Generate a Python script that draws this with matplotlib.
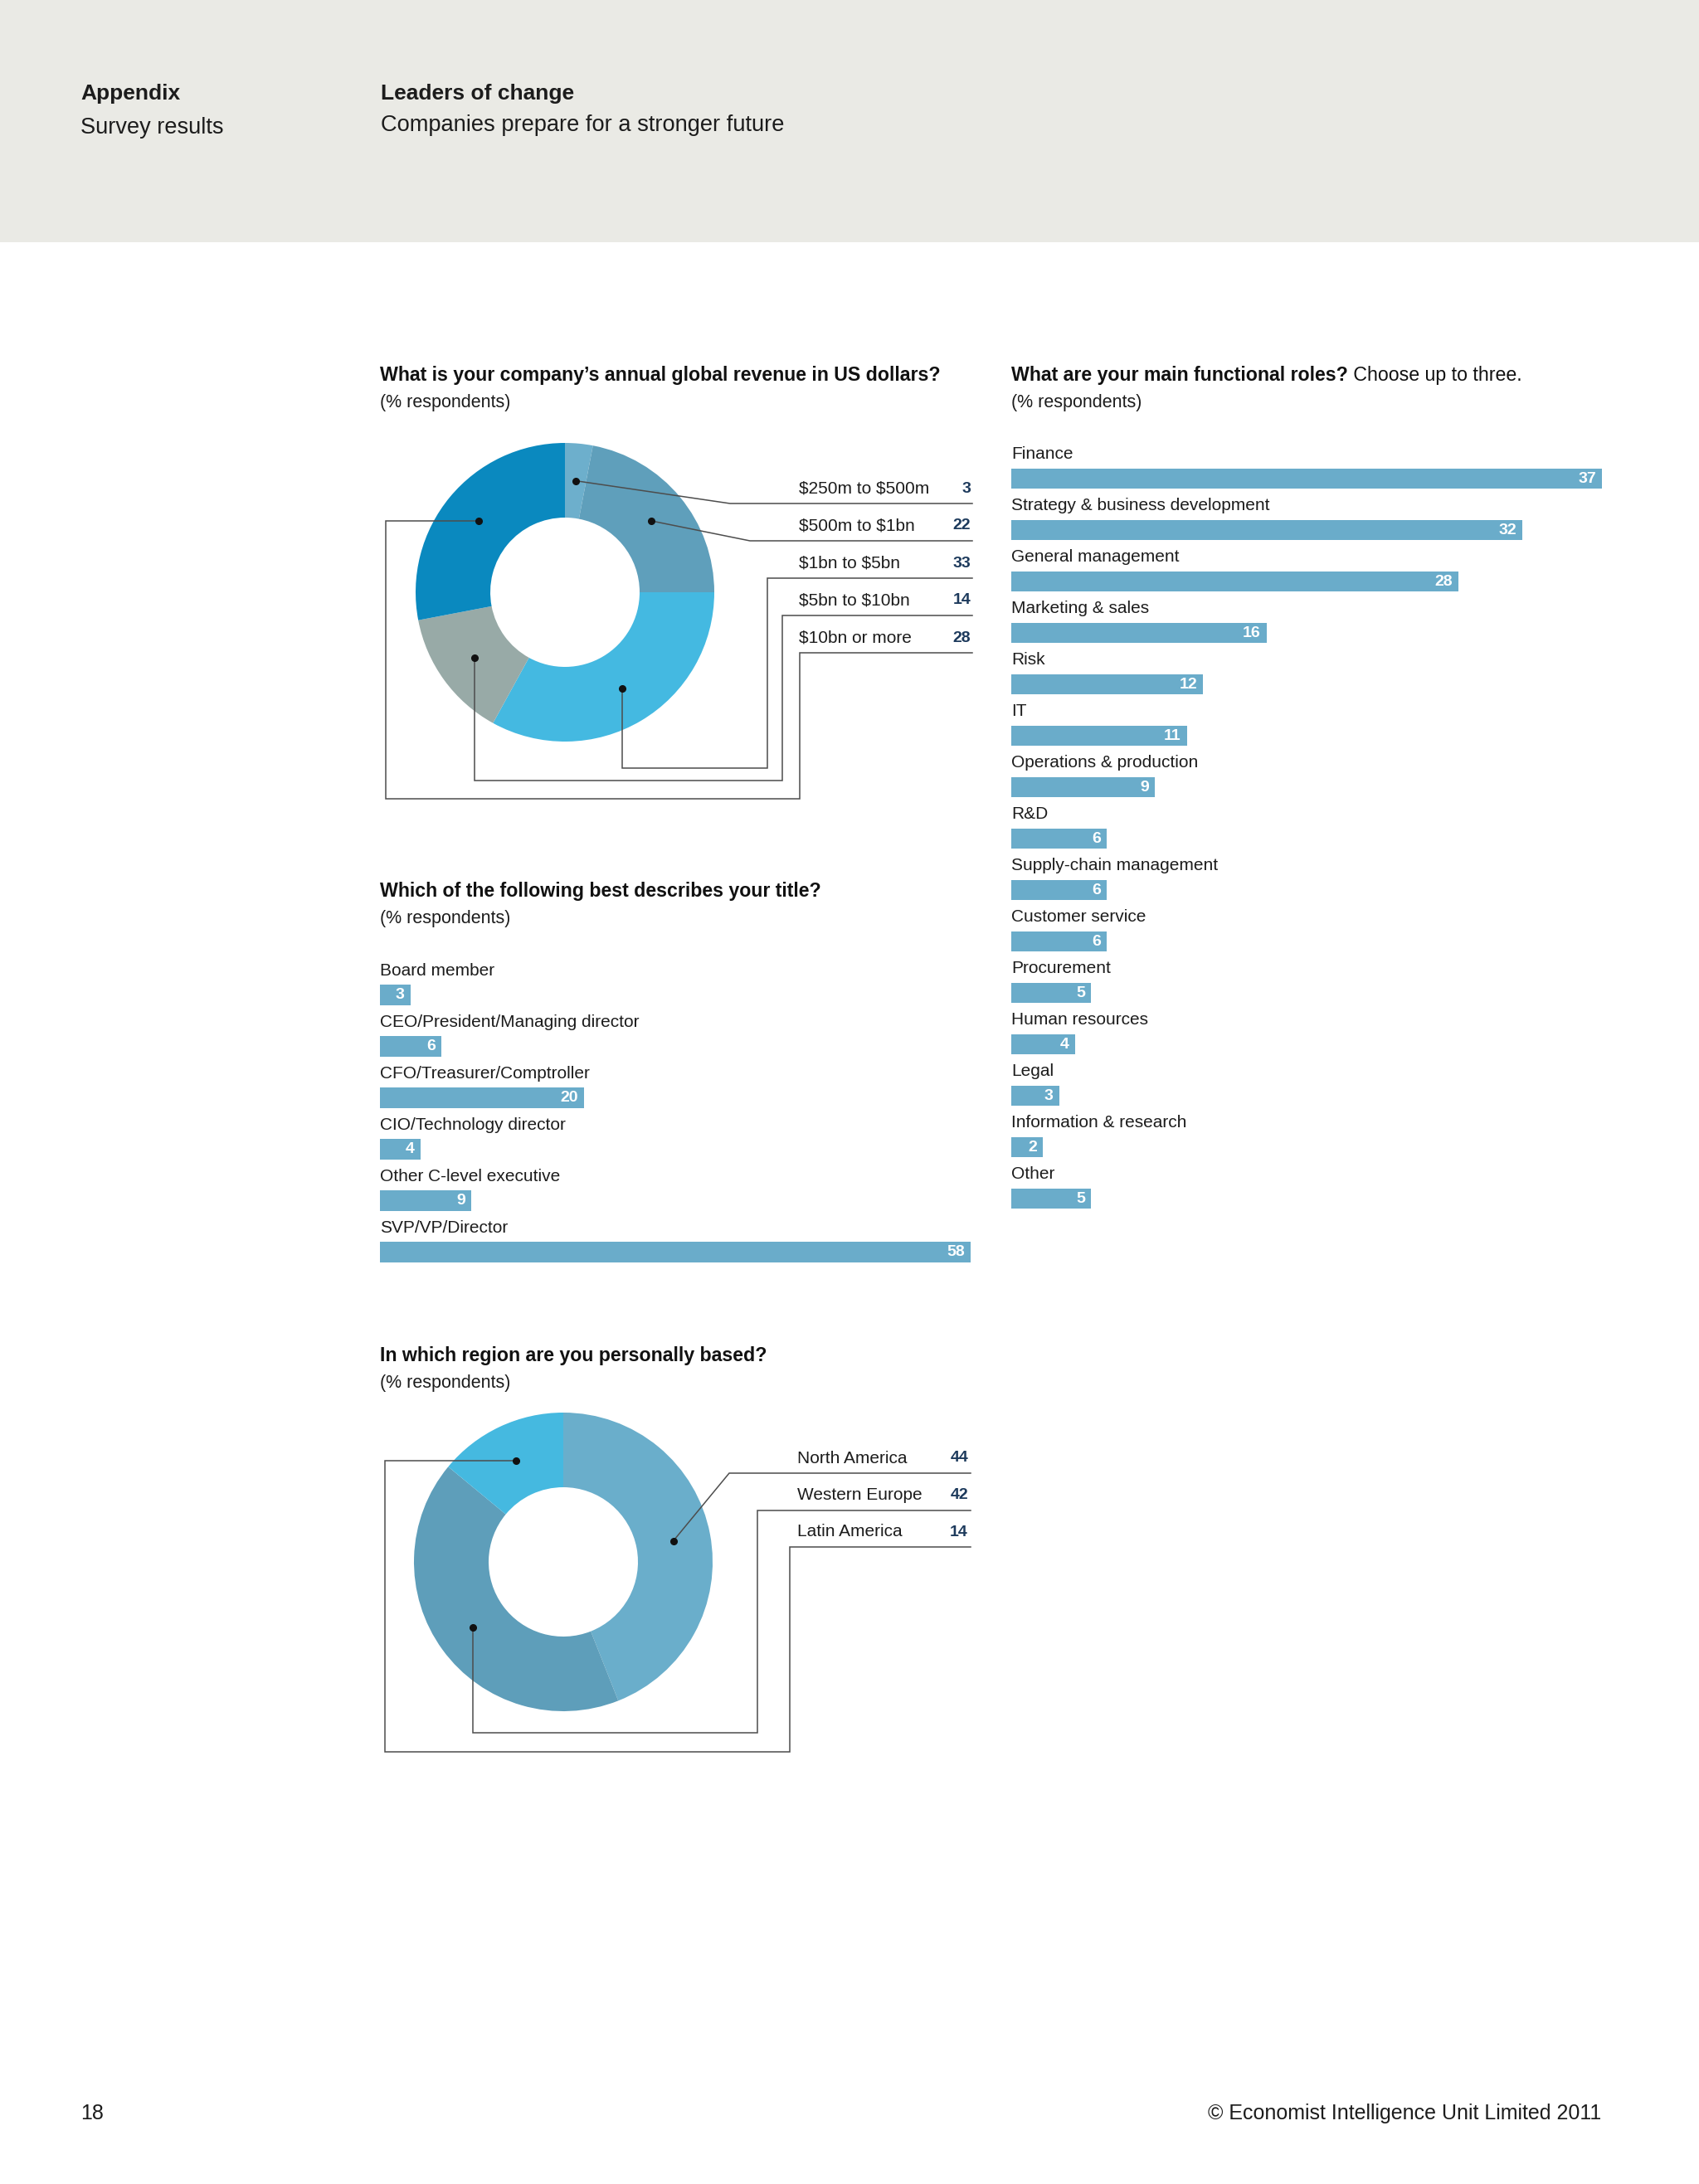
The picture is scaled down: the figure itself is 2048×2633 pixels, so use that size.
import matplotlib
matplotlib.use('Agg')
import matplotlib.pyplot as plt
from matplotlib.patches import Rectangle
import numpy as np

plt.rcParams['font.family'] = ['Liberation Sans', 'DejaVu Sans']

# page size in pixels (dpi 100)
W, H = 2048, 2633

# ---- data ----
revenue_labels = ['$250m to $500m', '$500m to $1bn', '$1bn to $5bn', '$5bn to $10bn', '$10bn or more']
revenue_values = [3, 22, 33, 14, 28]
revenue_colors = ['#6dafcc', '#5f9fbb', '#44b9e1', '#98aaa7', '#0a89bf']

title_labels = ['Board member', 'CEO/President/Managing director', 'CFO/Treasurer/Comptroller',
                'CIO/Technology director', 'Other C-level executive', 'SVP/VP/Director']
title_values = [3, 6, 20, 4, 9, 58]

role_labels = ['Finance', 'Strategy & business development', 'General management', 'Marketing & sales',
               'Risk', 'IT', 'Operations & production', 'R&D', 'Supply-chain management',
               'Customer service', 'Procurement', 'Human resources', 'Legal',
               'Information & research', 'Other']
role_values = [37, 32, 28, 16, 12, 11, 9, 6, 6, 6, 5, 4, 3, 2, 5]

region_labels = ['North America', 'Western Europe', 'Latin America']
region_values = [44, 42, 14]
region_colors = ['#6aaecb', '#5e9eba', '#45b9e0']

# ---- styles ----
TXT = '#1c1c1c'
NAVY = '#1d3a5c'
LINE = '#4d4d4d'
BAR_C = '#6aacca'
R_OUT, R_IN, R_DOT = 180, 90, 135
ROW = 62          # row pitch of the bar charts
BAR_H = 24.5
BAR_W = 712       # pixel length of the longest bar
LABEL_OFF = 0.475 # label sits above its bar (in rows)

fig = plt.figure(figsize=(W / 100, H / 100), dpi=100, facecolor='white')
page = fig.add_axes([0, 0, 1, 1])


def reset_page():
    page.set_xlim(0, W)
    page.set_ylim(H, 0)
    page.axis('off')


reset_page()

# header band
page.add_patch(Rectangle((0, 0), W, 292, facecolor='#eaeae5', edgecolor='none'))
page.text(97, 113, 'Appendix', fontsize=19, weight='bold', color=TXT, va='center')
page.text(97, 154, 'Survey results', fontsize=19.5, color=TXT, va='center')
page.text(459, 113, 'Leaders of change', fontsize=19, weight='bold', color=TXT, va='center')
page.text(459, 151, 'Companies prepare for a stronger future', fontsize=19.6, color=TXT, va='center')

# footer
page.text(97, 2548, '18', fontsize=18, color=TXT, va='center')
page.text(1930, 2548, '\u00a9 Economist Intelligence Unit Limited 2011', fontsize=18,
          color=TXT, va='center', ha='right')


def heading(x, y, bold, rest=None):
    t = page.text(x, y, bold, fontsize=16.7, weight='bold', color='#111111', va='center')
    if rest:
        page.annotate(rest, xy=(1, 0), xycoords=t, fontsize=16.7, color='#111111',
                      va='bottom', ha='left')
    page.text(x, y + 33, '(% respondents)', fontsize=15.5, color=TXT, va='center')


def route(kind, dx, dy, uy, x_end, *p):
    if kind == 'diag':
        return [(dx, dy), (p[0], uy), (x_end, uy)]
    if kind == 'down':
        return [(dx, dy), (dx, p[0]), (p[1], p[0]), (p[1], uy), (x_end, uy)]
    # 'left'
    return [(dx, dy), (p[0], dy), (p[0], p[1]), (p[2], p[1]), (p[2], uy), (x_end, uy)]


def donut(cx, cy, labels, values, colors, row0, step, routes, label_x, value_x, x_end):
    page.pie(values, colors=colors, center=(cx, cy), radius=R_OUT, startangle=-90,
             counterclock=True, wedgeprops=dict(width=R_OUT - R_IN, linewidth=0))
    reset_page()
    vals = np.array(values, dtype=float)
    cum = np.concatenate([[0], np.cumsum(vals)[:-1]])
    mids = np.deg2rad(-90 + 360 * (cum + vals / 2) / vals.sum())
    for i, (lab, v, m, r) in enumerate(zip(labels, values, mids, routes)):
        dx, dy = cx + R_DOT * np.cos(m), cy + R_DOT * np.sin(m)
        uy = row0 + step * i
        pts = route(r[0], dx, dy, uy, x_end, *r[1:])
        page.plot([q[0] for q in pts], [q[1] for q in pts], color=LINE, lw=1.1,
                  solid_joinstyle='miter')
        page.plot(dx, dy, 'o', color='#111111', ms=5.5)
        page.text(label_x, uy - 18, lab, fontsize=15, color=TXT, va='center', parse_math=False)
        page.text(value_x, uy - 18, str(v), fontsize=14, weight='bold', color=NAVY,
                  va='center', ha='right')


def bar_panel(left, top, labels, values):
    n = len(values)
    ax = fig.add_axes([left / W, 1 - (top + n * ROW) / H, BAR_W / W, n * ROW / H])
    y = np.arange(n)
    ax.barh(y, values, height=BAR_H / ROW, color=BAR_C, linewidth=0)
    ax.set_xlim(0, max(values))
    ax.set_ylim(n - 0.5, -0.5)
    ax.axis('off')
    for i, (lab, v) in enumerate(zip(labels, values)):
        ax.text(0, i - LABEL_OFF, lab, fontsize=15, color=TXT, va='center', ha='left',
                clip_on=False)
        ax.annotate(str(v), (v, i), xytext=(-7, 0), textcoords='offset pixels', ha='right',
                    va='center', color='white', fontsize=14, weight='bold')


# revenue donut
heading(458, 452, 'What is your company\u2019s annual global revenue in US dollars?')
donut(681, 714, revenue_labels, revenue_values, revenue_colors, 607, 45,
      [('diag', 880), ('diag', 904), ('down', 926, 925), ('down', 941, 943),
       ('left', 465, 963, 964)],
      963, 1170, 1172)

# title bars
heading(458, 1075, 'Which of the following best describes your title?')
bar_panel(458, 1168.5, title_labels, title_values)

# functional roles bars
heading(1219, 452, 'What are your main functional roles?', ' Choose up to three.')
bar_panel(1219, 546, role_labels, role_values)

# region donut
heading(458, 1634, 'In which region are you personally based?')
donut(679, 1883, region_labels, region_values, region_colors, 1776, 44.5,
      [('diag', 879), ('down', 2089, 913), ('left', 464, 2112, 952)],
      961, 1167, 1170)

fig.savefig('out.png', dpi=100, facecolor='white')
